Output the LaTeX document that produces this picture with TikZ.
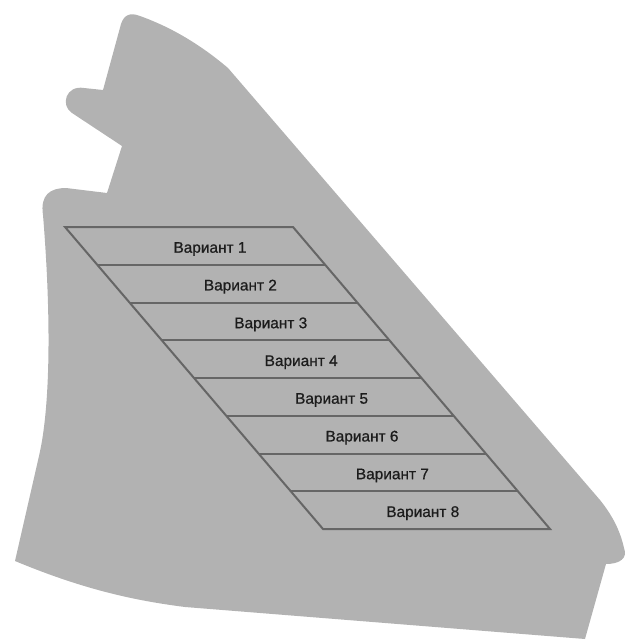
\documentclass[tikz,border=0pt]{standalone}
\usepackage{fontspec}
\setmainfont{Liberation Sans}
\newfontface\lblfont[FakeBold=0.7]{Liberation Sans}
\definecolor{shapegray}{HTML}{B2B2B2}
\definecolor{linegray}{HTML}{666666}
\definecolor{textdark}{HTML}{1C1C1C}
\tikzset{
  blob/.style={fill=shapegray, draw=none},
  rowline/.style={draw=linegray, line width=2pt, line join=miter},
  lbl/.style={anchor=base, inner sep=0pt, text=textdark, font=\lblfont\fontsize{15.4}{18}\selectfont}
}
\begin{document}
\begin{tikzpicture}[x=1pt,y=-1pt]
\useasboundingbox (0,0) rectangle (624,640);
% background silhouette
\path[blob] (103,90) -- (121,24)
  .. controls (124,15) and (130,12) .. (140,16)
  .. controls (165,25) and (195,40) .. (228,68)
  -- (600,500)
  .. controls (612,515) and (620,530) .. (624,548)
  .. controls (628,558) and (620,564) .. (606,564)
  -- (585,639)
  -- (185,607)
  .. controls (130,600) and (80,588) .. (15,561)
  -- (39,456)
  .. controls (52,400) and (50,300) .. (43,215)
  .. controls (40,195) and (50,188) .. (66,188)
  -- (107,193)
  -- (122,146)
  -- (72,113)
  .. controls (60,105) and (66,85) .. (84,88)
  -- cycle;
% parallelogram rows
\coordinate (p0l) at (65,227);
\coordinate (p0r) at (293,227);
\coordinate (p8l) at (323,529);
\coordinate (p8r) at (550,529);
\draw[rowline] (p0l) -- (p0r) -- (p8r) -- (p8l) -- cycle;
\foreach \k in {1,...,7}{
  \draw[rowline] ({65+32.25*\k},{227+37.75*\k}) -- ({293+32.125*\k},{227+37.75*\k});
}
% labels
\foreach \k in {1,...,8}{
  \node[lbl] (v\k) at ({210+30.4*(\k-1)},{227+37.75*(\k-1)+18.9+6.8}) {Вариант \k};
}
\end{tikzpicture}
\end{document}
